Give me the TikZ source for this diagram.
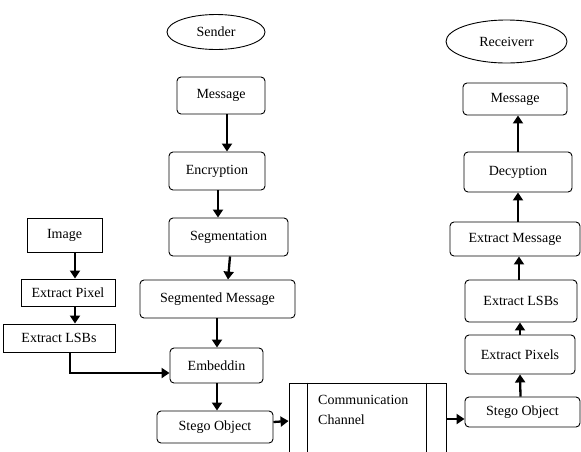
\documentclass[tikz,border=0pt]{standalone}
\usepackage{fontspec}
\setmainfont{Liberation Serif}
\usetikzlibrary{shapes.geometric,arrows.meta}
\tikzset{
  rbox/.style={draw, line width=0.9pt, rounded corners=4pt, inner sep=0pt, font=\fontsize{14}{16}\selectfont},
  sbox/.style={draw, line width=0.9pt, inner sep=0pt, font=\fontsize{14}{16}\selectfont},
  oval/.style={draw, line width=0.9pt, ellipse, inner sep=0pt, font=\fontsize{14}{16}\selectfont},
  flow/.style={line width=2.3pt, -{Triangle[length=8pt,width=10pt]}},
}
\begin{document}
\begin{tikzpicture}[x=1pt,y=-1pt]
\useasboundingbox (0,0) rectangle (581,451);
% sender column
\node[oval, minimum width=98pt, minimum height=35pt] (sender) at (216,32) {Sender};
\node[rbox, minimum width=88pt, minimum height=37pt] (msg) at (221,95.5) {Message};
\node[rbox, minimum width=96pt, minimum height=38pt] (enc) at (217,171) {Encryption};
\node[rbox, minimum width=119pt, minimum height=38pt] (seg) at (228.5,237) {Segmentation};
\node[rbox, minimum width=155pt, minimum height=38pt] (segm) at (217.5,299) {Segmented Message};
\node[rbox, minimum width=93pt, minimum height=35pt] (emb) at (216.5,365.5) {Embeddin};
\node[rbox, minimum width=116pt, minimum height=32pt] (stego1) at (215,427) {Stego Object};
% image column
\node[sbox, minimum width=75pt, minimum height=34pt] (image) at (64.5,235) {Image};
\node[sbox, minimum width=94pt, minimum height=27pt] (xpix) at (68,292.5) {Extract Pixel};
\node[sbox, minimum width=112pt, minimum height=28pt] (xlsb) at (59,338) {Extract LSBs};
% channel
\node[sbox, minimum width=157pt, minimum height=70pt] (comm) at (367.5,418) {};
\draw[line width=0.9pt] ([xshift=19pt]comm.north west) -- ([xshift=19pt]comm.south west);
\draw[line width=0.9pt] ([xshift=-20pt]comm.north east) -- ([xshift=-20pt]comm.south east);
\node[anchor=north west, inner sep=0pt, align=left, font=\fontsize{14}{20}\selectfont] (commtext) at (318,395) {Communication\\Channel};
% receiver column
\node[oval, minimum width=121pt, minimum height=43pt] (recv) at (506.5,41.5) {Receiverr};
\node[rbox, minimum width=104pt, minimum height=32pt] (msg2) at (515,99) {Message};
\node[rbox, minimum width=108pt, minimum height=40pt] (dec) at (518,172) {Decyption};
\node[rbox, minimum width=130pt, minimum height=34pt] (xmsg) at (515,239) {Extract Message};
\node[rbox, minimum width=112pt, minimum height=42pt] (xlsbs) at (521,301) {Extract LSBs};
\node[rbox, minimum width=110pt, minimum height=39pt] (xpixels) at (520,354.5) {Extract Pixels};
\node[rbox, minimum width=115pt, minimum height=30pt] (stego2) at (522.5,412) {Stego Object};
% arrows sender
\draw[flow] ([xshift=6pt]msg.south) -- ([xshift=10pt]enc.north);
\draw[flow] ([xshift=1pt]enc.south) -- ([xshift=-10.5pt]seg.north);
\draw[flow] ([xshift=1.5pt]seg.south) -- ([xshift=10.5pt]segm.north);
\draw[flow] ([xshift=-0.5pt]segm.south) -- ([xshift=0.5pt]emb.north);
\draw[flow] ([xshift=0.5pt]emb.south) -- ([xshift=2pt]stego1.north);
% arrows image
\draw[flow] ([xshift=10.5pt]image.south) -- ([xshift=7pt]xpix.north);
\draw[flow] ([xshift=7pt]xpix.south) -- ([xshift=16pt]xlsb.north);
\draw[flow] ([xshift=11pt]xlsb.south) |- ([yshift=-7.5pt]emb.west);
% channel arrows
\draw[flow] ([yshift=5pt]stego1.east) -- ([yshift=-3pt]comm.west);
\draw[flow] ([yshift=-1pt]comm.east) -- ([yshift=-7pt]stego2.west);
% receiver arrows
\draw[flow] ([xshift=-2pt]stego2.north) -- ([xshift=0pt]xpixels.south);
\draw[flow] ([xshift=0pt]xpixels.north) -- ([xshift=-1pt]xlsbs.south);
\draw[flow] ([xshift=-2pt]xlsbs.north) -- ([xshift=4pt]xmsg.south);
\draw[flow] ([xshift=3pt]xmsg.north) -- ([xshift=0pt]dec.south);
\draw[flow] ([xshift=0pt]dec.north) -- ([xshift=3pt]msg2.south);
\end{tikzpicture}
\end{document}
